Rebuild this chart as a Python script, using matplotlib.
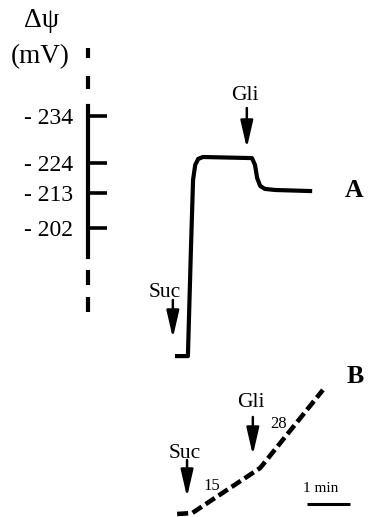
import numpy as np
import matplotlib
matplotlib.use("Agg")
import matplotlib.pyplot as plt

# =============================================================================
# DATA
# =============================================================================

# Trace A: membrane potential (mV) against time (min, 0 = succinate added)
time_a = [0.00, 0.30, 0.37, 0.42, 0.47, 0.54, 0.65, 1.79, 1.86, 1.91, 1.98, 2.09, 2.33, 3.19]
psi_a = [153.2, 153.2, 192.1, 217.8, 223.3, 225.5, 226.2, 225.8, 223.3, 218.5, 215.6, 214.5, 214.1, 213.7]

# Trace B: oxygen consumed (nmol O2) against time (min)
time_b = [0.05, 0.40, 1.98, 3.44]
o2_b = [0.0, 0.5, 24.2, 65.3]

# Rates written next to trace B
rate_labels = ["15", "28"]

# y scale of panel A (tick labels as printed)
tick_labels = ["- 234", "- 224", "- 213", "- 202"]
tick_pos = [241.2, 224.0, 213.0, 200.2]

# Additions (time of arrow, min)
suc_a, gli_a = -0.05, 1.67
suc_b, gli_b = 0.28, 1.81

# =============================================================================
# LAYOUT
# =============================================================================

W, H = 375, 517
PX_PER_MIN = 43.0
X0 = 175.0            # pixel of t = 0
PX_PER_MV = 30.0 / 11.0
Y224 = 163.0          # pixel of 224 mV
PX_PER_NMOL = 1.9
YB0 = 514.0           # pixel of O2 = 0


def fy(py):
    # pixel row -> axes fraction
    return 1.0 - py / H


def fx(px):
    return px / W


plt.rcParams["font.family"] = ["Liberation Serif", "DejaVu Serif"]

fig = plt.figure(figsize=(W / 100, H / 100), dpi=100)
ax = fig.add_axes([0, 0, 1, 1])
ax.set_xlim(-X0 / PX_PER_MIN, (W - X0) / PX_PER_MIN)
ax.set_ylim(224 - (H - Y224) / PX_PER_MV, 224 + Y224 / PX_PER_MV)
ax.patch.set_alpha(0)

axb = fig.add_axes([0, 0, 1, 1])
axb.set_xlim(ax.get_xlim())
axb.set_ylim(-(H - YB0) / PX_PER_NMOL, YB0 / PX_PER_NMOL)
axb.axis("off")
axb.patch.set_alpha(0)

# y axis of panel A
t_axis = (88 - X0) / PX_PER_MIN
for s in ["top", "right", "bottom"]:
    ax.spines[s].set_visible(False)
ax.spines["left"].set_position(("data", t_axis))
ax.spines["left"].set_linewidth(3.0)
ax.spines["left"].set_bounds(224 - (257 - Y224) / PX_PER_MV, 224 - (106 - Y224) / PX_PER_MV)
ax.set_xticks([])
ax.set_yticks(tick_pos, labels=tick_labels)
ax.tick_params(axis="y", direction="in", length=13.5, width=2.6, pad=10.5, labelsize=17)

# dashed extensions of the axis
for top, bot in [(48, 58), (76, 89), (270, 285), (297, 312)]:
    ax.plot([t_axis, t_axis], [224 - (top - Y224) / PX_PER_MV, 224 - (bot - Y224) / PX_PER_MV],
            color="black", lw=3.0, solid_capstyle="butt")

ax.text(fx(42), fy(27), "Δψ", transform=ax.transAxes, ha="center", va="baseline", fontsize=20)
ax.text(fx(40), fy(63), "(mV)", transform=ax.transAxes, ha="center", va="baseline", fontsize=19.5)

# trace A
ax.plot(time_a, psi_a, color="black", lw=3.0, solid_joinstyle="round", solid_capstyle="butt")
ax.text(fx(354), fy(197), "A", transform=ax.transAxes, ha="center", va="baseline",
        fontsize=18.5, fontweight="bold")

# trace B
axb.plot(time_b, o2_b, color="black", lw=3.3, linestyle=(0, (2.4, 1.0)), dash_capstyle="butt")
axb.text(fx(355), fy(383), "B", transform=axb.transAxes, ha="center", va="baseline",
         fontsize=18.5, fontweight="bold")
axb.text(fx(212), fy(490), rate_labels[0], transform=axb.transAxes, ha="center", va="baseline", fontsize=12)
axb.text(fx(279), fy(428), rate_labels[1], transform=axb.transAxes, ha="center", va="baseline", fontsize=12)

# arrows for additions
arrow_kw = dict(arrowstyle="-|>,head_length=1.65,head_width=0.38", color="black", lw=1.8,
                shrinkA=0, shrinkB=0, mutation_scale=10)
trans = ax.get_xaxis_transform()
for t, label, tail, tip, base in [(suc_a, "Suc", 300, 338, 297), (gli_a, "Gli", 108, 148, 100),
                                  (suc_b, "Suc", 460, 497, 458), (gli_b, "Gli", 417, 455, 407)]:
    ax.annotate("", xy=(t, fy(tip)), xytext=(t, fy(tail)), xycoords=trans, textcoords=trans,
                arrowprops=arrow_kw)
    dx = -0.18 if label == "Suc" and t < 0 else -0.05
    ax.text(t + dx, fy(base), label, transform=trans, ha="center", va="baseline", fontsize=15.5)

# 1 min scale bar
ax.plot([(307 - X0) / PX_PER_MIN, (307 - X0) / PX_PER_MIN + 1], [fy(504), fy(504)], transform=trans,
        color="black", lw=2.2, solid_capstyle="butt")
ax.text(fx(321), fy(492), "1 min", transform=ax.transAxes, ha="center", va="baseline", fontsize=11)

fig.savefig("out.png", dpi=100)
